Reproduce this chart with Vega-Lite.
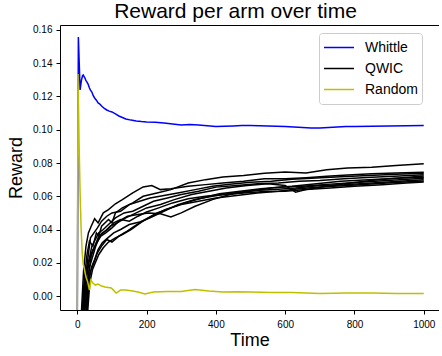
{
  "$schema": "https://vega.github.io/schema/vega-lite/v6.json",
  "width": 379,
  "height": 285,
  "padding": {"left": 7, "top": 0, "right": 0, "bottom": 0},
  "background": "white",
  "title": {"text": "Reward per arm over time", "fontSize": 21, "fontWeight": "normal", "font": "Liberation Sans", "color": "black", "dx": -14, "offset": 3},
  "config": {
    "view": {"stroke": null},
    "axis": {"labelFont": "Liberation Sans", "labelFontSize": 10, "labelColor": "black", "tickColor": "black", "domainColor": "black", "tickSize": 4, "labelPadding": 4, "labelOverlap": false, "titleFont": "Liberation Sans", "titleFontSize": 18, "titleFontWeight": "normal", "titleColor": "black", "grid": false},
    "legend": {"orient": "none", "legendX": 259, "legendY": 8, "symbolType": "stroke", "symbolSize": 900, "symbolStrokeWidth": 1.5, "labelFont": "Liberation Sans", "labelFontSize": 14, "labelColor": "black", "padding": 4, "clipHeight": 21, "strokeColor": "#cccccc", "fillColor": "white", "cornerRadius": 3, "rowPadding": 0, "labelOffset": 10}
  },
  "data": {"values": [
    {"algo":"Whittle","run":0,"t":0,"reward":-0.0084},{"algo":"Whittle","run":0,"t":3,"reward":0.1558},{"algo":"Whittle","run":0,"t":6,"reward":0.137},{"algo":"Whittle","run":0,"t":8,"reward":0.1239},{"algo":"Whittle","run":0,"t":10,"reward":0.127},{"algo":"Whittle","run":0,"t":12,"reward":0.1299},{"algo":"Whittle","run":0,"t":15,"reward":0.1325},{"algo":"Whittle","run":0,"t":17,"reward":0.1329},{"algo":"Whittle","run":0,"t":20,"reward":0.1318},{"algo":"Whittle","run":0,"t":22,"reward":0.1311},{"algo":"Whittle","run":0,"t":25,"reward":0.1295},{"algo":"Whittle","run":0,"t":28,"reward":0.1287},{"algo":"Whittle","run":0,"t":31,"reward":0.1275},{"algo":"Whittle","run":0,"t":35,"reward":0.1251},{"algo":"Whittle","run":0,"t":38,"reward":0.1238},{"algo":"Whittle","run":0,"t":42,"reward":0.1227},{"algo":"Whittle","run":0,"t":46,"reward":0.1205},{"algo":"Whittle","run":0,"t":50,"reward":0.1191},{"algo":"Whittle","run":0,"t":55,"reward":0.1178},{"algo":"Whittle","run":0,"t":60,"reward":0.1161},{"algo":"Whittle","run":0,"t":65,"reward":0.1155},{"algo":"Whittle","run":0,"t":70,"reward":0.1143},{"algo":"Whittle","run":0,"t":78,"reward":0.1128},{"algo":"Whittle","run":0,"t":85,"reward":0.1119},{"algo":"Whittle","run":0,"t":92,"reward":0.1112},{"algo":"Whittle","run":0,"t":100,"reward":0.1107},{"algo":"Whittle","run":0,"t":110,"reward":0.1095},{"algo":"Whittle","run":0,"t":120,"reward":0.1083},{"algo":"Whittle","run":0,"t":130,"reward":0.1074},{"algo":"Whittle","run":0,"t":140,"reward":0.1065},{"algo":"Whittle","run":0,"t":155,"reward":0.1058},{"algo":"Whittle","run":0,"t":170,"reward":0.1053},{"algo":"Whittle","run":0,"t":185,"reward":0.1049},{"algo":"Whittle","run":0,"t":200,"reward":0.1047},{"algo":"Whittle","run":0,"t":225,"reward":0.1045},{"algo":"Whittle","run":0,"t":250,"reward":0.1041},{"algo":"Whittle","run":0,"t":275,"reward":0.1035},{"algo":"Whittle","run":0,"t":300,"reward":0.1029},{"algo":"Whittle","run":0,"t":325,"reward":0.1031},{"algo":"Whittle","run":0,"t":350,"reward":0.1028},{"algo":"Whittle","run":0,"t":375,"reward":0.1024},{"algo":"Whittle","run":0,"t":400,"reward":0.102},{"algo":"Whittle","run":0,"t":425,"reward":0.1021},{"algo":"Whittle","run":0,"t":450,"reward":0.1023},{"algo":"Whittle","run":0,"t":475,"reward":0.1025},{"algo":"Whittle","run":0,"t":500,"reward":0.1026},{"algo":"Whittle","run":0,"t":525,"reward":0.1024},{"algo":"Whittle","run":0,"t":550,"reward":0.1023},{"algo":"Whittle","run":0,"t":575,"reward":0.1021},{"algo":"Whittle","run":0,"t":600,"reward":0.102},{"algo":"Whittle","run":0,"t":625,"reward":0.1017},{"algo":"Whittle","run":0,"t":650,"reward":0.1014},{"algo":"Whittle","run":0,"t":675,"reward":0.1011},{"algo":"Whittle","run":0,"t":700,"reward":0.1011},{"algo":"Whittle","run":0,"t":725,"reward":0.1014},{"algo":"Whittle","run":0,"t":750,"reward":0.1017},{"algo":"Whittle","run":0,"t":775,"reward":0.1019},{"algo":"Whittle","run":0,"t":800,"reward":0.102},{"algo":"Whittle","run":0,"t":850,"reward":0.1021},{"algo":"Whittle","run":0,"t":900,"reward":0.1023},{"algo":"Whittle","run":0,"t":950,"reward":0.1024},{"algo":"Whittle","run":0,"t":1000,"reward":0.1026},

    {"algo":"Random","run":0,"t":0,"reward":-0.0084},{"algo":"Random","run":0,"t":2,"reward":0.1335},{"algo":"Random","run":0,"t":5,"reward":0.0926},{"algo":"Random","run":0,"t":8,"reward":0.0626},{"algo":"Random","run":0,"t":11,"reward":0.0403},{"algo":"Random","run":0,"t":14,"reward":0.0265},{"algo":"Random","run":0,"t":17,"reward":0.0192},{"algo":"Random","run":0,"t":21,"reward":0.0156},{"algo":"Random","run":0,"t":25,"reward":0.0114},{"algo":"Random","run":0,"t":30,"reward":0.0084},{"algo":"Random","run":0,"t":35,"reward":0.0036},{"algo":"Random","run":0,"t":39,"reward":0.0096},{"algo":"Random","run":0,"t":45,"reward":0.0078},{"algo":"Random","run":0,"t":52,"reward":0.0066},{"algo":"Random","run":0,"t":60,"reward":0.0072},{"algo":"Random","run":0,"t":70,"reward":0.006},{"algo":"Random","run":0,"t":80,"reward":0.0054},{"algo":"Random","run":0,"t":98,"reward":0.0048},{"algo":"Random","run":0,"t":112,"reward":0.0018},{"algo":"Random","run":0,"t":125,"reward":0.0036},{"algo":"Random","run":0,"t":140,"reward":0.0036},{"algo":"Random","run":0,"t":160,"reward":0.003},{"algo":"Random","run":0,"t":175,"reward":0.0024},{"algo":"Random","run":0,"t":195,"reward":0.0012},{"algo":"Random","run":0,"t":220,"reward":0.0024},{"algo":"Random","run":0,"t":260,"reward":0.0027},{"algo":"Random","run":0,"t":300,"reward":0.0027},{"algo":"Random","run":0,"t":340,"reward":0.0039},{"algo":"Random","run":0,"t":380,"reward":0.003},{"algo":"Random","run":0,"t":420,"reward":0.0024},{"algo":"Random","run":0,"t":460,"reward":0.0026},{"algo":"Random","run":0,"t":500,"reward":0.0024},{"algo":"Random","run":0,"t":560,"reward":0.0021},{"algo":"Random","run":0,"t":620,"reward":0.0021},{"algo":"Random","run":0,"t":700,"reward":0.0015},{"algo":"Random","run":0,"t":780,"reward":0.0018},{"algo":"Random","run":0,"t":850,"reward":0.0018},{"algo":"Random","run":0,"t":920,"reward":0.0015},{"algo":"Random","run":0,"t":1000,"reward":0.0015},

    {"algo":"QWIC","run":1,"t":14,"reward":-0.009},{"algo":"QWIC","run":1,"t":20,"reward":0.01},{"algo":"QWIC","run":1,"t":28,"reward":0.025},{"algo":"QWIC","run":1,"t":35,"reward":0.033},{"algo":"QWIC","run":1,"t":45,"reward":0.03},{"algo":"QWIC","run":1,"t":55,"reward":0.038},{"algo":"QWIC","run":1,"t":62,"reward":0.036},{"algo":"QWIC","run":1,"t":70,"reward":0.042},{"algo":"QWIC","run":1,"t":90,"reward":0.046},{"algo":"QWIC","run":1,"t":100,"reward":0.044},{"algo":"QWIC","run":1,"t":110,"reward":0.05},{"algo":"QWIC","run":1,"t":130,"reward":0.053},{"algo":"QWIC","run":1,"t":160,"reward":0.056},{"algo":"QWIC","run":1,"t":190,"reward":0.06},{"algo":"QWIC","run":1,"t":230,"reward":0.062},{"algo":"QWIC","run":1,"t":270,"reward":0.064},{"algo":"QWIC","run":1,"t":320,"reward":0.068},{"algo":"QWIC","run":1,"t":370,"reward":0.07},{"algo":"QWIC","run":1,"t":420,"reward":0.0716},{"algo":"QWIC","run":1,"t":480,"reward":0.0725},{"algo":"QWIC","run":1,"t":540,"reward":0.0738},{"algo":"QWIC","run":1,"t":600,"reward":0.0746},{"algo":"QWIC","run":1,"t":660,"reward":0.074},{"algo":"QWIC","run":1,"t":720,"reward":0.076},{"algo":"QWIC","run":1,"t":780,"reward":0.077},{"algo":"QWIC","run":1,"t":850,"reward":0.0775},{"algo":"QWIC","run":1,"t":920,"reward":0.0785},{"algo":"QWIC","run":1,"t":1000,"reward":0.0796},

    {"algo":"QWIC","run":2,"t":12,"reward":-0.009},{"algo":"QWIC","run":2,"t":18,"reward":0.015},{"algo":"QWIC","run":2,"t":25,"reward":0.03},{"algo":"QWIC","run":2,"t":32,"reward":0.038},{"algo":"QWIC","run":2,"t":40,"reward":0.042},{"algo":"QWIC","run":2,"t":50,"reward":0.0465},{"algo":"QWIC","run":2,"t":60,"reward":0.044},{"algo":"QWIC","run":2,"t":75,"reward":0.05},{"algo":"QWIC","run":2,"t":90,"reward":0.052},{"algo":"QWIC","run":2,"t":110,"reward":0.0555},{"algo":"QWIC","run":2,"t":130,"reward":0.058},{"algo":"QWIC","run":2,"t":160,"reward":0.062},{"algo":"QWIC","run":2,"t":190,"reward":0.0656},{"algo":"QWIC","run":2,"t":215,"reward":0.0665},{"algo":"QWIC","run":2,"t":240,"reward":0.064},{"algo":"QWIC","run":2,"t":270,"reward":0.0645},{"algo":"QWIC","run":2,"t":320,"reward":0.066},{"algo":"QWIC","run":2,"t":370,"reward":0.067},{"algo":"QWIC","run":2,"t":420,"reward":0.068},{"algo":"QWIC","run":2,"t":480,"reward":0.069},{"algo":"QWIC","run":2,"t":540,"reward":0.0705},{"algo":"QWIC","run":2,"t":600,"reward":0.0706},{"algo":"QWIC","run":2,"t":660,"reward":0.0712},{"algo":"QWIC","run":2,"t":720,"reward":0.072},{"algo":"QWIC","run":2,"t":780,"reward":0.0728},{"algo":"QWIC","run":2,"t":850,"reward":0.0735},{"algo":"QWIC","run":2,"t":920,"reward":0.074},{"algo":"QWIC","run":2,"t":1000,"reward":0.0745},

    {"algo":"QWIC","run":3,"t":16,"reward":-0.009},{"algo":"QWIC","run":3,"t":22,"reward":0.008},{"algo":"QWIC","run":3,"t":30,"reward":0.022},{"algo":"QWIC","run":3,"t":38,"reward":0.035},{"algo":"QWIC","run":3,"t":48,"reward":0.038},{"algo":"QWIC","run":3,"t":58,"reward":0.041},{"algo":"QWIC","run":3,"t":70,"reward":0.045},{"algo":"QWIC","run":3,"t":85,"reward":0.048},{"algo":"QWIC","run":3,"t":100,"reward":0.05},{"algo":"QWIC","run":3,"t":125,"reward":0.051},{"algo":"QWIC","run":3,"t":150,"reward":0.055},{"algo":"QWIC","run":3,"t":180,"reward":0.057},{"algo":"QWIC","run":3,"t":210,"reward":0.059},{"algo":"QWIC","run":3,"t":250,"reward":0.0605},{"algo":"QWIC","run":3,"t":290,"reward":0.062},{"algo":"QWIC","run":3,"t":340,"reward":0.064},{"algo":"QWIC","run":3,"t":390,"reward":0.066},{"algo":"QWIC","run":3,"t":440,"reward":0.0672},{"algo":"QWIC","run":3,"t":500,"reward":0.0685},{"algo":"QWIC","run":3,"t":560,"reward":0.069},{"algo":"QWIC","run":3,"t":620,"reward":0.0702},{"algo":"QWIC","run":3,"t":690,"reward":0.071},{"algo":"QWIC","run":3,"t":760,"reward":0.0718},{"algo":"QWIC","run":3,"t":840,"reward":0.0725},{"algo":"QWIC","run":3,"t":920,"reward":0.0732},{"algo":"QWIC","run":3,"t":1000,"reward":0.0738},

    {"algo":"QWIC","run":4,"t":18,"reward":-0.009},{"algo":"QWIC","run":4,"t":24,"reward":0.012},{"algo":"QWIC","run":4,"t":32,"reward":0.02},{"algo":"QWIC","run":4,"t":42,"reward":0.03},{"algo":"QWIC","run":4,"t":52,"reward":0.034},{"algo":"QWIC","run":4,"t":62,"reward":0.038},{"algo":"QWIC","run":4,"t":75,"reward":0.04},{"algo":"QWIC","run":4,"t":90,"reward":0.043},{"algo":"QWIC","run":4,"t":110,"reward":0.047},{"algo":"QWIC","run":4,"t":135,"reward":0.05},{"algo":"QWIC","run":4,"t":160,"reward":0.051},{"algo":"QWIC","run":4,"t":190,"reward":0.054},{"algo":"QWIC","run":4,"t":220,"reward":0.057},{"algo":"QWIC","run":4,"t":260,"reward":0.059},{"algo":"QWIC","run":4,"t":300,"reward":0.061},{"algo":"QWIC","run":4,"t":350,"reward":0.063},{"algo":"QWIC","run":4,"t":400,"reward":0.0655},{"algo":"QWIC","run":4,"t":460,"reward":0.0665},{"algo":"QWIC","run":4,"t":520,"reward":0.0675},{"algo":"QWIC","run":4,"t":580,"reward":0.068},{"algo":"QWIC","run":4,"t":640,"reward":0.069},{"algo":"QWIC","run":4,"t":700,"reward":0.0695},{"algo":"QWIC","run":4,"t":770,"reward":0.0705},{"algo":"QWIC","run":4,"t":850,"reward":0.0715},{"algo":"QWIC","run":4,"t":930,"reward":0.0722},{"algo":"QWIC","run":4,"t":1000,"reward":0.073},

    {"algo":"QWIC","run":5,"t":20,"reward":-0.009},{"algo":"QWIC","run":5,"t":26,"reward":0.01},{"algo":"QWIC","run":5,"t":35,"reward":0.022},{"algo":"QWIC","run":5,"t":45,"reward":0.028},{"algo":"QWIC","run":5,"t":55,"reward":0.031},{"algo":"QWIC","run":5,"t":65,"reward":0.036},{"algo":"QWIC","run":5,"t":80,"reward":0.039},{"algo":"QWIC","run":5,"t":95,"reward":0.042},{"algo":"QWIC","run":5,"t":115,"reward":0.044},{"algo":"QWIC","run":5,"t":140,"reward":0.047},{"algo":"QWIC","run":5,"t":170,"reward":0.05},{"algo":"QWIC","run":5,"t":200,"reward":0.053},{"algo":"QWIC","run":5,"t":240,"reward":0.055},{"algo":"QWIC","run":5,"t":280,"reward":0.058},{"algo":"QWIC","run":5,"t":330,"reward":0.061},{"algo":"QWIC","run":5,"t":380,"reward":0.063},{"algo":"QWIC","run":5,"t":430,"reward":0.065},{"algo":"QWIC","run":5,"t":490,"reward":0.0665},{"algo":"QWIC","run":5,"t":550,"reward":0.0675},{"algo":"QWIC","run":5,"t":600,"reward":0.0665},{"algo":"QWIC","run":5,"t":630,"reward":0.0625},{"algo":"QWIC","run":5,"t":660,"reward":0.064},{"algo":"QWIC","run":5,"t":720,"reward":0.066},{"algo":"QWIC","run":5,"t":790,"reward":0.068},{"algo":"QWIC","run":5,"t":860,"reward":0.0698},{"algo":"QWIC","run":5,"t":930,"reward":0.071},{"algo":"QWIC","run":5,"t":1000,"reward":0.0722},

    {"algo":"QWIC","run":6,"t":22,"reward":-0.009},{"algo":"QWIC","run":6,"t":28,"reward":0.008},{"algo":"QWIC","run":6,"t":36,"reward":0.018},{"algo":"QWIC","run":6,"t":46,"reward":0.025},{"algo":"QWIC","run":6,"t":56,"reward":0.032},{"algo":"QWIC","run":6,"t":68,"reward":0.036},{"algo":"QWIC","run":6,"t":82,"reward":0.038},{"algo":"QWIC","run":6,"t":100,"reward":0.041},{"algo":"QWIC","run":6,"t":120,"reward":0.045},{"algo":"QWIC","run":6,"t":145,"reward":0.048},{"algo":"QWIC","run":6,"t":175,"reward":0.049},{"algo":"QWIC","run":6,"t":205,"reward":0.05},{"algo":"QWIC","run":6,"t":240,"reward":0.0495},{"algo":"QWIC","run":6,"t":270,"reward":0.0475},{"algo":"QWIC","run":6,"t":300,"reward":0.05},{"algo":"QWIC","run":6,"t":340,"reward":0.054},{"algo":"QWIC","run":6,"t":390,"reward":0.058},{"algo":"QWIC","run":6,"t":440,"reward":0.061},{"algo":"QWIC","run":6,"t":500,"reward":0.063},{"algo":"QWIC","run":6,"t":560,"reward":0.065},{"algo":"QWIC","run":6,"t":620,"reward":0.066},{"algo":"QWIC","run":6,"t":690,"reward":0.0675},{"algo":"QWIC","run":6,"t":760,"reward":0.069},{"algo":"QWIC","run":6,"t":840,"reward":0.07},{"algo":"QWIC","run":6,"t":920,"reward":0.0708},{"algo":"QWIC","run":6,"t":1000,"reward":0.0715},

    {"algo":"QWIC","run":7,"t":25,"reward":-0.009},{"algo":"QWIC","run":7,"t":30,"reward":0.006},{"algo":"QWIC","run":7,"t":38,"reward":0.015},{"algo":"QWIC","run":7,"t":48,"reward":0.02},{"algo":"QWIC","run":7,"t":58,"reward":0.026},{"algo":"QWIC","run":7,"t":70,"reward":0.03},{"algo":"QWIC","run":7,"t":85,"reward":0.034},{"algo":"QWIC","run":7,"t":100,"reward":0.0325},{"algo":"QWIC","run":7,"t":120,"reward":0.036},{"algo":"QWIC","run":7,"t":140,"reward":0.0385},{"algo":"QWIC","run":7,"t":165,"reward":0.042},{"algo":"QWIC","run":7,"t":195,"reward":0.046},{"algo":"QWIC","run":7,"t":230,"reward":0.05},{"algo":"QWIC","run":7,"t":270,"reward":0.053},{"algo":"QWIC","run":7,"t":310,"reward":0.056},{"algo":"QWIC","run":7,"t":360,"reward":0.059},{"algo":"QWIC","run":7,"t":410,"reward":0.0615},{"algo":"QWIC","run":7,"t":470,"reward":0.063},{"algo":"QWIC","run":7,"t":530,"reward":0.0645},{"algo":"QWIC","run":7,"t":590,"reward":0.0655},{"algo":"QWIC","run":7,"t":650,"reward":0.066},{"algo":"QWIC","run":7,"t":710,"reward":0.067},{"algo":"QWIC","run":7,"t":780,"reward":0.068},{"algo":"QWIC","run":7,"t":860,"reward":0.069},{"algo":"QWIC","run":7,"t":930,"reward":0.07},{"algo":"QWIC","run":7,"t":1000,"reward":0.0708},

    {"algo":"QWIC","run":8,"t":28,"reward":-0.009},{"algo":"QWIC","run":8,"t":34,"reward":0.01},{"algo":"QWIC","run":8,"t":42,"reward":0.018},{"algo":"QWIC","run":8,"t":50,"reward":0.022},{"algo":"QWIC","run":8,"t":60,"reward":0.028},{"algo":"QWIC","run":8,"t":72,"reward":0.032},{"algo":"QWIC","run":8,"t":88,"reward":0.035},{"algo":"QWIC","run":8,"t":105,"reward":0.038},{"algo":"QWIC","run":8,"t":125,"reward":0.04},{"algo":"QWIC","run":8,"t":150,"reward":0.043},{"algo":"QWIC","run":8,"t":180,"reward":0.0445},{"algo":"QWIC","run":8,"t":210,"reward":0.047},{"algo":"QWIC","run":8,"t":250,"reward":0.051},{"algo":"QWIC","run":8,"t":290,"reward":0.055},{"algo":"QWIC","run":8,"t":340,"reward":0.058},{"algo":"QWIC","run":8,"t":390,"reward":0.06},{"algo":"QWIC","run":8,"t":450,"reward":0.062},{"algo":"QWIC","run":8,"t":510,"reward":0.0635},{"algo":"QWIC","run":8,"t":570,"reward":0.064},{"algo":"QWIC","run":8,"t":630,"reward":0.065},{"algo":"QWIC","run":8,"t":700,"reward":0.0665},{"algo":"QWIC","run":8,"t":770,"reward":0.067},{"algo":"QWIC","run":8,"t":850,"reward":0.068},{"algo":"QWIC","run":8,"t":930,"reward":0.069},{"algo":"QWIC","run":8,"t":1000,"reward":0.07},

    {"algo":"QWIC","run":9,"t":30,"reward":-0.009},{"algo":"QWIC","run":9,"t":36,"reward":0.008},{"algo":"QWIC","run":9,"t":44,"reward":0.016},{"algo":"QWIC","run":9,"t":52,"reward":0.02},{"algo":"QWIC","run":9,"t":62,"reward":0.025},{"algo":"QWIC","run":9,"t":75,"reward":0.029},{"algo":"QWIC","run":9,"t":90,"reward":0.0325},{"algo":"QWIC","run":9,"t":110,"reward":0.035},{"algo":"QWIC","run":9,"t":130,"reward":0.037},{"algo":"QWIC","run":9,"t":155,"reward":0.04},{"algo":"QWIC","run":9,"t":185,"reward":0.0445},{"algo":"QWIC","run":9,"t":215,"reward":0.048},{"algo":"QWIC","run":9,"t":255,"reward":0.052},{"algo":"QWIC","run":9,"t":300,"reward":0.055},{"algo":"QWIC","run":9,"t":350,"reward":0.057},{"algo":"QWIC","run":9,"t":400,"reward":0.059},{"algo":"QWIC","run":9,"t":460,"reward":0.0605},{"algo":"QWIC","run":9,"t":520,"reward":0.062},{"algo":"QWIC","run":9,"t":580,"reward":0.063},{"algo":"QWIC","run":9,"t":640,"reward":0.0645},{"algo":"QWIC","run":9,"t":700,"reward":0.0655},{"algo":"QWIC","run":9,"t":780,"reward":0.0665},{"algo":"QWIC","run":9,"t":860,"reward":0.0675},{"algo":"QWIC","run":9,"t":930,"reward":0.0685},{"algo":"QWIC","run":9,"t":1000,"reward":0.0692},

    {"algo":"QWIC","run":10,"t":26,"reward":-0.009},{"algo":"QWIC","run":10,"t":32,"reward":0.012},{"algo":"QWIC","run":10,"t":40,"reward":0.024},{"algo":"QWIC","run":10,"t":50,"reward":0.03},{"algo":"QWIC","run":10,"t":60,"reward":0.035},{"algo":"QWIC","run":10,"t":72,"reward":0.038},{"algo":"QWIC","run":10,"t":88,"reward":0.04},{"algo":"QWIC","run":10,"t":105,"reward":0.044},{"algo":"QWIC","run":10,"t":125,"reward":0.046},{"algo":"QWIC","run":10,"t":150,"reward":0.045},{"algo":"QWIC","run":10,"t":175,"reward":0.048},{"algo":"QWIC","run":10,"t":200,"reward":0.0505},{"algo":"QWIC","run":10,"t":235,"reward":0.053},{"algo":"QWIC","run":10,"t":275,"reward":0.056},{"algo":"QWIC","run":10,"t":320,"reward":0.0585},{"algo":"QWIC","run":10,"t":370,"reward":0.06},{"algo":"QWIC","run":10,"t":420,"reward":0.061},{"algo":"QWIC","run":10,"t":480,"reward":0.062},{"algo":"QWIC","run":10,"t":540,"reward":0.0628},{"algo":"QWIC","run":10,"t":600,"reward":0.063},{"algo":"QWIC","run":10,"t":660,"reward":0.064},{"algo":"QWIC","run":10,"t":730,"reward":0.065},{"algo":"QWIC","run":10,"t":800,"reward":0.066},{"algo":"QWIC","run":10,"t":880,"reward":0.067},{"algo":"QWIC","run":10,"t":950,"reward":0.068},{"algo":"QWIC","run":10,"t":1000,"reward":0.0686}
  ]},
  "resolve": {"axis": {"x": "independent"}},
  "encoding": {
    "y": {"field": "reward", "type": "quantitative", "scale": {"domain": [-0.0084, 0.163], "nice": false, "zero": false}, "axis": {"title": "Reward", "values": [0, 0.02, 0.04, 0.06, 0.08, 0.1, 0.12, 0.14, 0.16], "tickCount": 9, "labelOverlap": false, "format": ".2f", "titlePadding": 7}},
    "color": {"field": "algo", "type": "nominal", "scale": {"domain": ["Whittle", "QWIC", "Random"], "range": ["#0000ff", "#000000", "#bfbf00"]}, "legend": {"title": null}},
    "order": {"field": "t", "type": "quantitative"}
  },
  "layer": [
    {
      "transform": [{"filter": "datum.algo === 'Whittle'"}],
      "mark": {"type": "line", "strokeWidth": 1.5, "clip": true},
      "encoding": {
        "x": {"field": "t", "type": "quantitative", "scale": {"domain": [-50, 1044], "nice": false, "zero": false}, "axis": {"title": "Time", "values": [0, 200, 400, 600, 800, 1000], "format": "d", "titlePadding": 2, "labelPadding": 5}}
      }
    },
    {
      "transform": [{"filter": "datum.algo === 'QWIC'"}],
      "mark": {"type": "line", "strokeWidth": 1.5, "clip": true},
      "encoding": {
        "x": {"field": "t", "type": "quantitative", "scale": {"domain": [-50, 1044], "nice": false, "zero": false}, "axis": null},
        "detail": {"field": "run", "type": "nominal"}
      }
    },
    {
      "transform": [{"filter": "datum.algo === 'Random'"}],
      "mark": {"type": "line", "strokeWidth": 1.5, "clip": true},
      "encoding": {
        "x": {"field": "t", "type": "quantitative", "scale": {"domain": [-50, 1044], "nice": false, "zero": false}, "axis": {"orient": "top", "title": null, "labels": false, "ticks": false, "domain": true}}
      }
    }
  ]
}
